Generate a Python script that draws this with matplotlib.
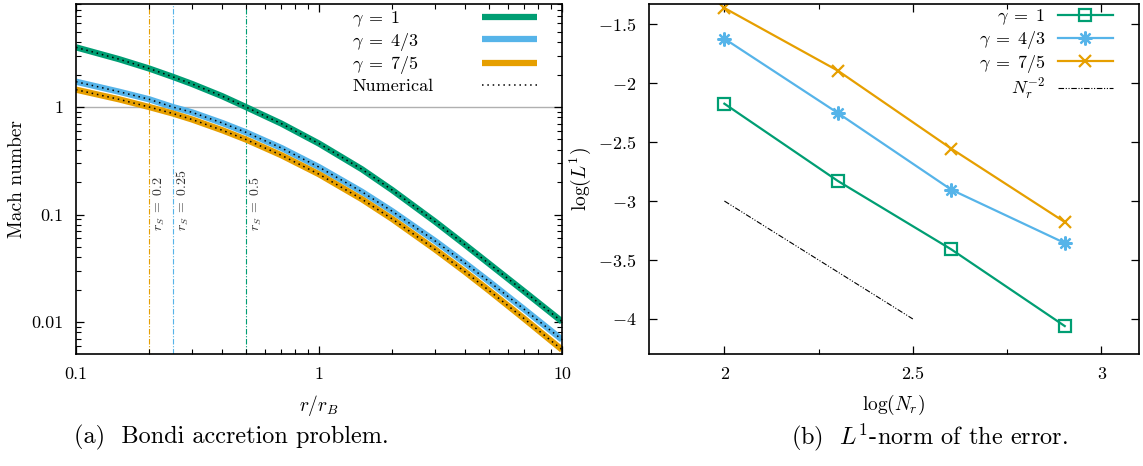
import matplotlib
matplotlib.use("Agg")
import matplotlib.pyplot as plt
from matplotlib.ticker import FixedLocator, NullFormatter, LogLocator

plt.rcParams["font.family"] = "serif"
plt.rcParams["font.serif"] = ["cmr10", "DejaVu Serif"]
plt.rcParams["mathtext.fontset"] = "cm"
plt.rcParams["axes.formatter.use_mathtext"] = True

GREEN = "#009E73"
BLUE = "#56B4E9"
ORANGE = "#E69F00"

# (a) Bondi accretion: Mach number vs r / r_B
radius = [0.1, 0.15, 0.2, 0.25, 0.3, 0.4, 0.5, 0.7, 1.0, 1.5, 2.0, 3.0, 4.0, 5.0, 7.0, 10.0]
mach_g1 = [3.59, 2.79, 2.28, 1.91, 1.64, 1.26, 1.0, 0.701, 0.457, 0.264, 0.169,
           0.0861, 0.0521, 0.0350, 0.0192, 0.0101]
mach_g43 = [1.72, 1.39, 1.18, 1.0, 0.893, 0.710, 0.582, 0.416, 0.276, 0.163, 0.1074,
            0.0569, 0.0352, 0.0239, 0.0131, 0.00686]
mach_g75 = [1.45, 1.18, 1.0, 0.871, 0.766, 0.608, 0.499, 0.356, 0.237, 0.139, 0.0910,
            0.0475, 0.0292, 0.0197, 0.0107, 0.00553]
sonic_radius = [0.2, 0.25, 0.5]
sonic_labels = ["0.2", "0.25", "0.5"]

# (b) L1-norm of the error vs resolution
log_nr = [2.0, 2.301, 2.602, 2.903]
l1_g1 = [-2.175, -2.83, -3.41, -4.06]
l1_g43 = [-1.624, -2.254, -2.904, -3.356]
l1_g75 = [-1.364, -1.895, -2.556, -3.178]
ref_nr = [2.0, 2.5]
ref_l1 = [-3.0, -4.0]

fig = plt.figure(figsize=(11.43, 4.66), dpi=100)
ax1 = fig.add_axes([0.0665, 0.2403, 0.4252, 0.7511])
ax2 = fig.add_axes([0.5678, 0.2403, 0.4287, 0.7511])

# ---- left panel
ax1.set_xscale("log")
ax1.set_yscale("log")
ax1.axhline(1.0, color="#b0b0b0", linewidth=1.0, zorder=1)
for rs, lab, col in zip(sonic_radius, sonic_labels, [ORANGE, BLUE, GREEN]):
    ax1.axvline(rs, color=col, linewidth=0.8, linestyle=(0, (5, 1.5, 1, 1.5)), zorder=1)
    ax1.text(rs * 1.1, 0.07, r"$r_S\;=\;$" + lab, rotation=90, ha="center", va="bottom",
             fontsize=10, color="#333333")

for m, col, lab in [(mach_g1, GREEN, r"$\gamma\;=\;1$"),
                    (mach_g43, BLUE, r"$\gamma\;=\;4/3$"),
                    (mach_g75, ORANGE, r"$\gamma\;=\;7/5$")]:
    ax1.plot(radius, m, color=col, linewidth=4.5, label=lab, solid_capstyle="butt", zorder=2)
for i, m in enumerate([mach_g1, mach_g43, mach_g75]):
    ax1.plot(radius, m, color="black", linewidth=1.1, linestyle=(0, (1, 2.5)),
             label="Numerical" if i == 0 else None, zorder=3)

ax1.set_xlim(0.1, 10)
ax1.set_ylim(0.00504, 9.08)
ax1.set_xticks([0.1, 1, 10], ["0.1", "1", "10"])
ax1.set_yticks([0.01, 0.1, 1], ["0.01", "0.1", "1"])
ax1.xaxis.set_minor_locator(LogLocator(subs=range(2, 10)))
ax1.yaxis.set_minor_locator(LogLocator(subs=range(2, 10)))
ax1.xaxis.set_minor_formatter(NullFormatter())
ax1.yaxis.set_minor_formatter(NullFormatter())
ax1.set_xlabel(r"$r/r_B$", fontsize=14, labelpad=8)
ax1.set_ylabel("Mach number", fontsize=14, labelpad=4)

leg1 = ax1.legend(loc="upper right", frameon=False, markerfirst=False, fontsize=13,
                  handlelength=3.05, handletextpad=2.7, labelspacing=0.1,
                  borderaxespad=0, borderpad=0, bbox_to_anchor=(0.9486, 0.985))

# ---- right panel
ax2.plot(log_nr, l1_g1, color=GREEN, linewidth=1.6, marker="s", markersize=8.5,
         markerfacecolor="none", markeredgewidth=1.6, label=r"$\gamma\;=\;1$")
ax2.plot(log_nr, l1_g43, color=BLUE, linewidth=1.6, marker=(8, 2, 0), markersize=10,
         markeredgewidth=1.6, label=r"$\gamma\;=\;4/3$")
ax2.plot(log_nr, l1_g75, color=ORANGE, linewidth=1.6, marker="x", markersize=9,
         markeredgewidth=1.6, label=r"$\gamma\;=\;7/5$")
ax2.plot(ref_nr, ref_l1, color="black", linewidth=0.8, linestyle=(0, (5, 1.5, 1, 1.5, 1, 1.5)),
         label=r"$N_r^{-2}$")

ax2.set_xlim(1.8, 3.1)
ax2.set_ylim(-4.297, -1.33)
ax2.set_xticks([2, 2.5, 3], ["2", "2.5", "3"])
ax2.xaxis.set_minor_locator(FixedLocator([2.25, 2.75]))
yt = [-1.5, -2, -2.5, -3, -3.5, -4]
ax2.set_yticks(yt, [f"${v:g}$" for v in yt])
ax2.set_xlabel(r"$\log(N_r)$", fontsize=14, labelpad=8)
ax2.set_ylabel(r"$\log(L^1)$", fontsize=14, labelpad=4)
ax2.legend(loc="upper right", frameon=False, markerfirst=False, fontsize=13,
           handlelength=3.05, handletextpad=0.7, labelspacing=0.1, borderaxespad=0,
           borderpad=0, bbox_to_anchor=(0.947, 0.99))

for ax in (ax1, ax2):
    ax.tick_params(which="both", direction="in", top=True, right=True, labelsize=13, pad=9)
    ax.tick_params(which="major", length=6, width=0.9)
    ax.tick_params(which="minor", length=3.5, width=0.8)
    for sp in ax.spines.values():
        sp.set_linewidth(1.2)

# left legend: texts left aligned, line samples right aligned
fig.canvas.draw()
widths = [t.get_window_extent().width for t in leg1.get_texts()]
column = leg1._legend_handle_box.get_children()[0]
column.align = "left"
for item, w in zip(column.get_children(), widths):
    item.sep += (max(widths) - w) * 72 / fig.dpi

fig.text(0.2021, 0.062, "(a)  Bondi accretion problem.", ha="center", va="center", fontsize=17.5)
fig.text(0.8136, 0.062, r"(b)  $L^1$-norm of the error.", ha="center", va="center", fontsize=17.5)

fig.savefig("out.png", dpi=100)
